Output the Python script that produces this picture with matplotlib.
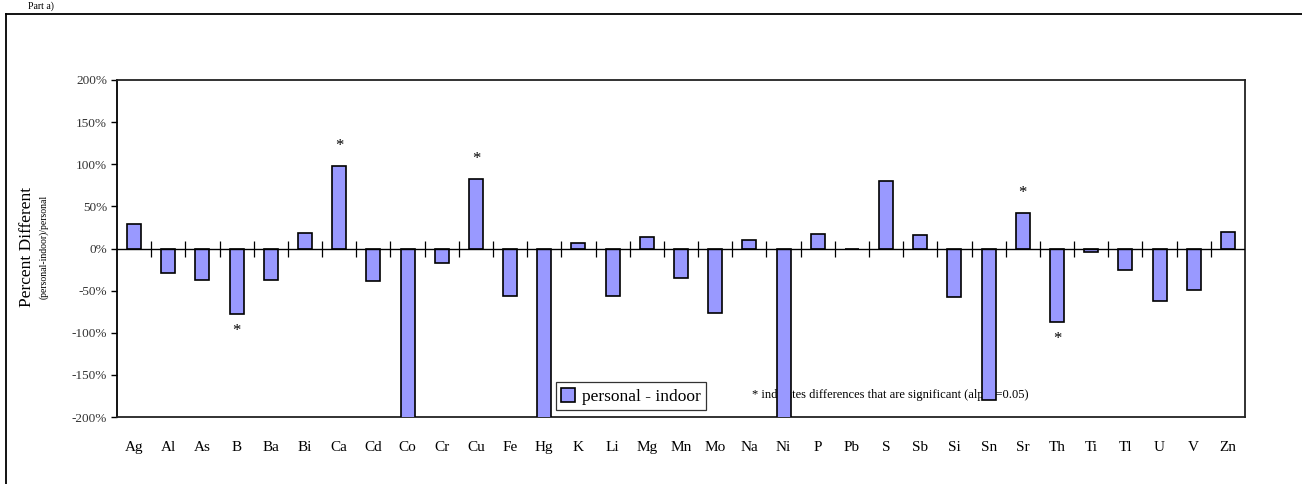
import matplotlib
matplotlib.use("Agg")
import matplotlib.pyplot as plt
from matplotlib.lines import Line2D
from matplotlib.ticker import FuncFormatter, MultipleLocator

plt.rcParams['font.family'] = ['Liberation Serif', 'DejaVu Serif']

elements = ["Ag", "Al", "As", "B", "Ba", "Bi", "Ca", "Cd", "Co", "Cr", "Cu",
            "Fe", "Hg", "K", "Li", "Mg", "Mn", "Mo", "Na", "Ni", "P", "Pb",
            "S", "Sb", "Si", "Sn", "Sr", "Th", "Ti", "Tl", "U", "V", "Zn"]
pct_diff = [29, -29, -37, -78, -37, 18, 98, -38, -240, -17, 82,
            -56, -240, 6, -56, 14, -35, -77, 10, -240, 17, -1,
            80, 16, -57, -180, 42, -87, -4, -25, -62, -49, 19]
significant = ["B", "Ca", "Cu", "Sr", "Th"]

fig = plt.figure(figsize=(13.02, 4.84), dpi=100)
ax = fig.add_axes([117 / 1302, 1 - 417 / 484, (1245 - 117) / 1302, (417 - 80) / 484])

x = list(range(len(elements)))
ax.bar(x, pct_diff, width=0.41, color="#9999FF", edgecolor="black",
       linewidth=1.2, label="personal - indoor", zorder=3)

ax.set_xlim(-0.5, len(elements) - 0.5)
ax.set_ylim(-200, 200)
ax.yaxis.set_major_locator(MultipleLocator(50))
ax.yaxis.set_major_formatter(FuncFormatter(lambda v, p: f"{v:.0f}%"))
ax.tick_params(axis="y", direction="out", length=4, width=1.0, labelsize=9.5,
               pad=3, labelcolor="#333333")
ax.set_xticks(x)
ax.set_xticklabels(elements, fontsize=11)
ax.tick_params(axis="x", length=0, pad=17)
for s in ax.spines.values():
    s.set_linewidth(1.3)
    s.set_color("#222222")
ax.spines["left"].set_color("black")

# category axis at zero with crossing tick marks between categories
ax.axhline(0, color="black", lw=1.0, zorder=4)
bounds = [i + 0.5 for i in x[:-1]]
ax.plot(bounds, [0] * len(bounds), ls="none", marker="|", markersize=11,
        markeredgewidth=0.9, color="black", zorder=4)

# significance markers
for name in significant:
    i = elements.index(name)
    v = pct_diff[i]
    yy = v + 24 if v > 0 else v - 20
    ax.text(i, yy, "*", ha="center", va="center", fontsize=12, zorder=5)

fig.text(27 / 1302, 1 - 247 / 484, "Percent Different", rotation=90,
         ha="center", va="center", fontsize=12.5)
fig.text(44 / 1302, 1 - 247 / 484, "(personal-indoor)/personal", rotation=90,
         ha="center", va="center", fontsize=7)

leg = ax.legend(loc="lower left", bbox_to_anchor=((556 - 117) / 1128, (417 - 410) / 337),
                frameon=True, fancybox=False, edgecolor="black", fontsize=12.5,
                handlelength=0.8, handleheight=0.9, handletextpad=0.4,
                borderpad=0.3, borderaxespad=0)
leg.get_frame().set_linewidth(0.9)

ax.text((752 - 117) / 1128, (417 - 395) / 337,
        "* indicates differences that are significant (alpha=0.05)",
        transform=ax.transAxes, ha="left", va="center", fontsize=9, zorder=2)

fig.text(28 / 1302, 1 - 6 / 484, "Part a)", ha="left", va="center", fontsize=7)

# outer chart frame (top and left edges)
fig.add_artist(Line2D([6 / 1302, 1.0], [1 - 14 / 484, 1 - 14 / 484],
                      transform=fig.transFigure, color="black", lw=1.3))
fig.add_artist(Line2D([6 / 1302, 6 / 1302], [0.0, 1 - 14 / 484],
                      transform=fig.transFigure, color="black", lw=1.3))

fig.savefig("out.png", dpi=100)
